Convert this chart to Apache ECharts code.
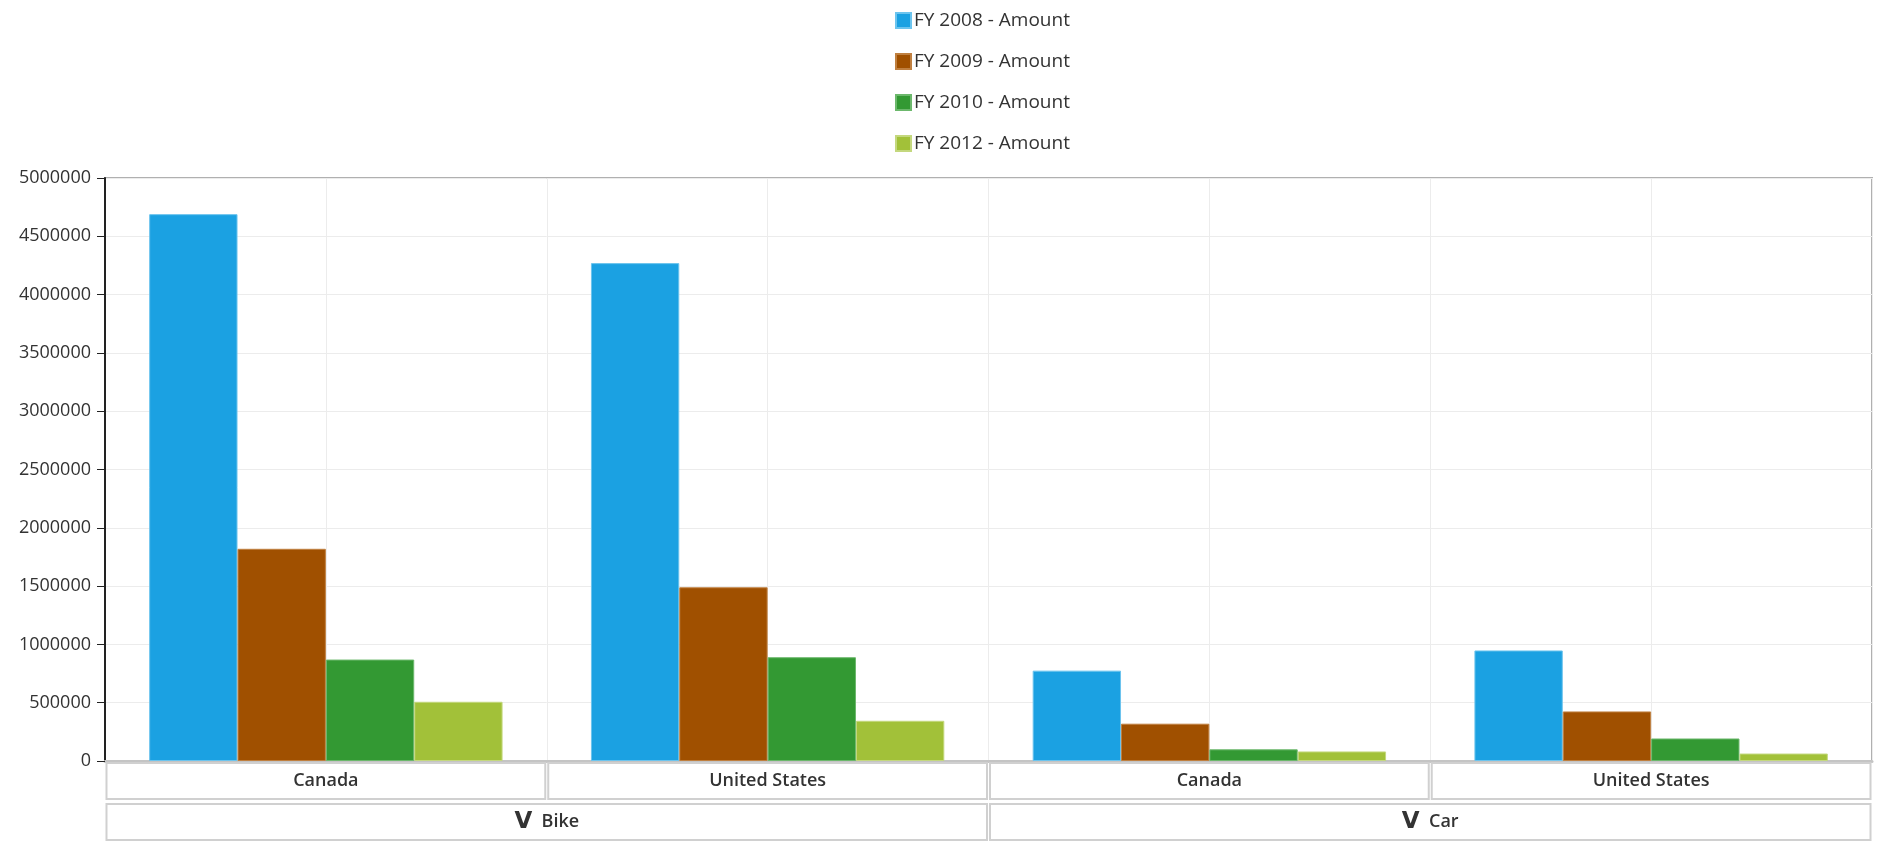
<!DOCTYPE html>
<html lang="en">
<head>
    <meta charset="UTF-8">
    <title>Amount by product and country</title>
    <script src="https://cdn.jsdelivr.net/npm/echarts@6/dist/echarts.min.js"></script>
    <style>
        html, body { margin: 0; padding: 0; background: #ffffff; }
        #chart { width: 1889px; height: 864px; }
    </style>
</head>
<body>
    <div id="chart"></div>
    <script>
        // data
        var countries = ['Canada', 'United States', 'Canada', 'United States'];
        var products = ['Bike', 'Car'];
        var fy2008 = [4690000, 4270000, 775000, 948000];
        var fy2009 = [1820000, 1490000, 320000, 425000];
        var fy2010 = [870000, 890000, 100000, 193000];
        var fy2012 = [508000, 345000, 82000, 64000];
        var seriesNames = ['FY 2008 - Amount', 'FY 2009 - Amount', 'FY 2010 - Amount', 'FY 2012 - Amount'];
        var yTicks = { min: 0, max: 5000000, interval: 500000 };

        var colors = ['#1ba1e2', '#a05000', '#339933', '#a2c139'];
        var edges = ['#6cc4ee', '#c08040', '#6cb86c', '#c4d87e'];
        var font = '"Open Sans", "Noto Sans", sans-serif';

        var chart = echarts.init(document.getElementById('chart'));
        var gridLeft = 105, gridRight = 17;
        var catW = (chart.getWidth() - gridLeft - gridRight) / countries.length;

        function bar(name, data, i) {
            return {
                name: name,
                type: 'bar',
                data: data,
                barGap: 0,
                barCategoryGap: '20%',
                itemStyle: { color: colors[i], borderColor: edges[i], borderWidth: 1 },
                emphasis: { disabled: true }
            };
        }

        chart.setOption({
            animation: false,
            textStyle: { fontFamily: font },
            legend: {
                orient: 'vertical',
                left: 895,
                top: 11,
                padding: 0,
                itemWidth: 15,
                itemHeight: 15,
                itemGap: 22,
                icon: 'rect',
                data: seriesNames,
                textStyle: { fontSize: 19, color: '#333333', lineHeight: 15, padding: [0, 0, 0, -2] }
            },
            grid: {
                left: gridLeft,
                right: gridRight,
                top: 178,
                bottom: 103,
                show: true,
                borderColor: '#b0b0b0',
                borderWidth: 2
            },
            xAxis: [{
                type: 'category',
                data: countries,
                position: 'bottom',
                axisLine: { lineStyle: { color: '#c4c4c4', width: 3 } },
                axisTick: { show: false },
                splitLine: { show: false },
                axisLabel: {
                    interval: 0,
                    margin: 3,
                    width: catW - 5,
                    height: 34,
                    lineHeight: 34,
                    borderColor: '#d0d0d0',
                    borderWidth: 2,
                    backgroundColor: '#ffffff',
                    fontSize: 18,
                    fontWeight: 600,
                    color: '#333333'
                }
            }, {
                type: 'category',
                data: products,
                position: 'bottom',
                offset: 44,
                axisLine: { show: false },
                axisTick: { show: false },
                axisLabel: {
                    interval: 0,
                    margin: 0,
                    width: catW * 2 - 5,
                    height: 34,
                    lineHeight: 34,
                    borderColor: '#d0d0d0',
                    borderWidth: 2,
                    backgroundColor: '#ffffff',
                    fontSize: 18,
                    fontWeight: 600,
                    color: '#333333',
                    formatter: function (v) { return '{chev|V}  ' + v; },
                    rich: {
                        chev: { fontFamily: 'DejaVu Sans', fontWeight: 'bold', fontSize: 23, color: '#333333', lineHeight: 34 }
                    }
                }
            }, {
                // half-category vertical grid lines
                type: 'value',
                min: 0,
                max: 8,
                interval: 1,
                position: 'top',
                axisLine: { show: false },
                axisTick: { show: false },
                axisLabel: { show: false },
                splitLine: { show: true, lineStyle: { color: '#ececec', width: 1 } }
            }],
            yAxis: {
                type: 'value',
                min: yTicks.min,
                max: yTicks.max,
                interval: yTicks.interval,
                offset: 3,
                axisLine: { show: true, lineStyle: { color: '#222222', width: 2 } },
                axisTick: { show: true, length: 8, lineStyle: { color: '#222222', width: 1 } },
                axisLabel: {
                    fontSize: 18,
                    color: '#333333',
                    margin: 11,
                    formatter: function (v) { return String(v); }
                },
                splitLine: { lineStyle: { color: '#ececec', width: 1 } }
            },
            series: [
                bar(seriesNames[0], fy2008, 0),
                bar(seriesNames[1], fy2009, 1),
                bar(seriesNames[2], fy2010, 2),
                bar(seriesNames[3], fy2012, 3)
            ]
        });
    </script>
</body>
</html>
